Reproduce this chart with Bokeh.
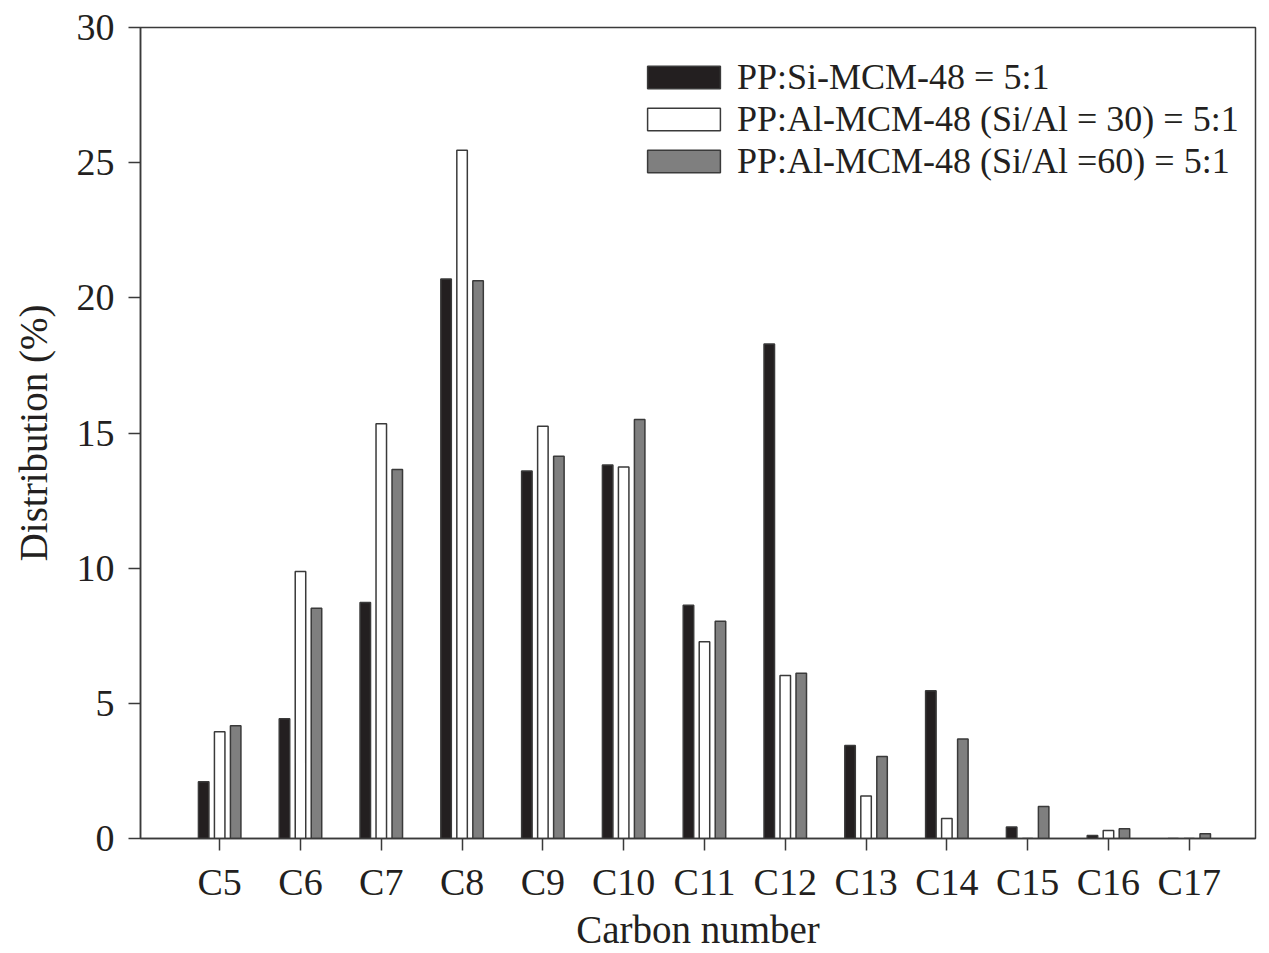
from bokeh.plotting import figure
from bokeh.models import ColumnDataSource, Range1d, FixedTicker, Legend, LegendItem
from bokeh.transform import dodge
from bokeh.embed import file_html
from bokeh.resources import INLINE

categories = ["C5", "C6", "C7", "C8", "C9", "C10", "C11", "C12", "C13", "C14", "C15", "C16", "C17"]
si_mcm48 = [2.1, 4.43, 8.73, 20.7, 13.59, 13.82, 8.63, 18.29, 3.44, 5.47, 0.43, 0.11, 0.0]
al_mcm48_30 = [3.95, 9.88, 15.34, 25.46, 15.25, 13.74, 7.28, 6.03, 1.57, 0.74, 0.0, 0.3, 0.0]
al_mcm48_60 = [4.17, 8.52, 13.65, 20.63, 14.14, 15.5, 8.04, 6.11, 3.03, 3.68, 1.18, 0.36, 0.18]
series_names = ["PP:Si-MCM-48 = 5:1",
                "PP:Al-MCM-48 (Si/Al = 30) = 5:1",
                "PP:Al-MCM-48 (Si/Al =60) = 5:1"]
y_ticks = [0, 5, 10, 15, 20, 25, 30]

idx = list(range(len(categories)))
src = ColumnDataSource(dict(x=idx, a=si_mcm48, b=al_mcm48_30, c=al_mcm48_60))

FONT = "Liberation Serif"
TXT = "#231f20"
LINE = "#3a3a3a"

p = figure(width=1269, height=953, output_backend="svg", toolbar_location=None,
           x_range=Range1d(-0.98, 12.82), y_range=Range1d(0, 30),
           min_border_left=140, min_border_right=14, min_border_top=27, min_border_bottom=113)

bw = 0.13
r1 = p.vbar(x=dodge("x", -0.198, range=p.x_range), top="a", width=bw, source=src,
            fill_color="#231f20", line_color=LINE, line_width=1.5)
r2 = p.vbar(x=dodge("x", 0.0, range=p.x_range), top="b", width=bw, source=src,
            fill_color="white", line_color=LINE, line_width=1.5)
r3 = p.vbar(x=dodge("x", 0.198, range=p.x_range), top="c", width=bw, source=src,
            fill_color="#7f7f7f", line_color=LINE, line_width=1.5)

p.xgrid.visible = False
p.ygrid.visible = False
p.outline_line_color = LINE
p.outline_line_width = 1.5

p.xaxis.ticker = FixedTicker(ticks=idx)
p.xaxis.major_label_overrides = {i: c for i, c in zip(idx, categories)}
p.yaxis.ticker = FixedTicker(ticks=y_ticks)

for ax in (p.xaxis[0], p.yaxis[0]):
    ax.axis_line_color = LINE
    ax.axis_line_width = 1.5
    ax.major_tick_line_color = LINE
    ax.major_tick_line_width = 1.5
    ax.major_tick_in = 0
    ax.major_tick_out = 12
    ax.minor_tick_line_color = None
    ax.major_label_text_font = FONT
    ax.major_label_text_font_size = "38px"
    ax.major_label_text_color = TXT
    ax.axis_label_text_font = FONT
    ax.axis_label_text_font_size = "39px"
    ax.axis_label_text_font_style = "normal"
    ax.axis_label_text_color = TXT

p.xaxis.axis_label = "Carbon number"
p.yaxis.axis_label = "Distribution (%)"
p.xaxis.major_label_standoff = 10
p.yaxis.major_label_standoff = 14
p.xaxis.axis_label_standoff = 2
p.yaxis.axis_label_standoff = 19

legend = Legend(items=[LegendItem(label=series_names[0], renderers=[r1]),
                       LegendItem(label=series_names[1], renderers=[r2]),
                       LegendItem(label=series_names[2], renderers=[r3])],
                location=(498, 656), orientation="vertical")
legend.border_line_color = None
legend.background_fill_alpha = 0
legend.padding = 7
legend.spacing = 0
legend.glyph_width = 91
legend.glyph_height = 28
legend.label_standoff = 8
legend.label_text_font = FONT
legend.label_text_font_size = "36px"
legend.label_text_color = TXT
legend.label_height = 40
p.add_layout(legend)

open("out.html", "w").write(file_html(p, INLINE))
